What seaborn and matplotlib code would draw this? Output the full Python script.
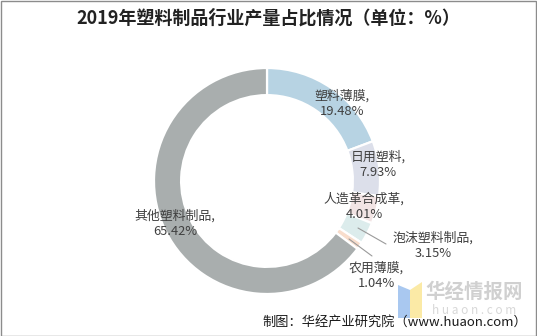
import matplotlib
matplotlib.use("Agg")
import matplotlib.pyplot as plt
import matplotlib.patches as mpatches
import seaborn as sns

sns.set_theme(style="white")
plt.rcParams['font.family'] = ['Noto Sans CJK SC', 'DejaVu Sans']

# Data
categories = ["塑料薄膜", "日用塑料", "人造革合成革", "泡沫塑料制品", "农用薄膜", "其他塑料制品"]
shares = [19.48, 7.93, 4.01, 3.15, 1.04, 65.42]
colors = ["#b7d3e3", "#dcdfea", "#f2e4e4", "#dcecec", "#f8ddcc", "#a9aeae"]
title = "2019年塑料制品行业产量占比情况（单位：%）"
source = "制图：华经产业研究院（www.huaon.com）"

# Label anchor positions in pixels (x, y from top)
label_pos = [(342, 104), (378, 165), (364, 207), (433, 246), (376, 276), (175, 224)]

W, H = 537, 336
fig = plt.figure(figsize=(W / 100, H / 100), dpi=100)
fig.patch.set_facecolor("white")

cx, cy, R = 267, 181, 113
ax = fig.add_axes([(cx - R) / W, (H - cy - R) / H, 2 * R / W, 2 * R / H])
wedges, _ = ax.pie(shares, colors=colors, startangle=90, counterclock=False,
                   radius=1.0, wedgeprops=dict(width=0.24, edgecolor="white", linewidth=1.6))
ax.set_xlim(-1, 1)
ax.set_ylim(-1, 1)
ax.set_aspect("equal")
ax.axis("off")


def px2data(x, y):
    return (x - cx) / R, (cy - y) / R


for name, val, (lx, ly) in zip(categories, shares, label_pos):
    dx, dy = px2data(lx, ly)
    ax.text(dx, dy, f"{name},\n{val:.2f}%", ha="center", va="center",
            fontsize=9.3, color="#404040", linespacing=1.25, clip_on=False)

# leader lines for the two small slices
for (x0, y0), (x1, y1) in [((358, 228), (386, 244)), ((349, 239), (372, 256))]:
    a, b = px2data(x0, y0)
    c, d = px2data(x1, y1)
    ax.plot([a, c], [b, d], color="#9a9a9a", lw=0.8, clip_on=False)

fig.text(0.5, 1 - 18 / H, title, ha="center", va="center", fontsize=13,
         fontweight="bold", color="#222222")

# watermark
fig.patches.append(mpatches.Polygon([(398 / W, 1 - 285 / H), (410 / W, 1 - 290 / H),
                                     (410 / W, 1 - 318 / H), (398 / W, 1 - 318 / H)],
                                    closed=True, transform=fig.transFigure,
                                    facecolor="#a9c8f0", edgecolor="none"))
fig.patches.append(mpatches.Polygon([(410 / W, 1 - 290 / H), (422 / W, 1 - 282 / H),
                                     (422 / W, 1 - 318 / H), (410 / W, 1 - 318 / H)],
                                    closed=True, transform=fig.transFigure,
                                    facecolor="#fbeaa6", edgecolor="none"))
fig.text(474 / W, 1 - 292 / H, "华经情报网", ha="center", va="center", fontsize=14,
         fontweight="bold", color="#d0d0d0")
fig.text(474 / W, 1 - 310 / H, "h u a o n . c o m", ha="center", va="center", fontsize=8.5,
         color="#d8d8d8")

fig.text(527 / W, 1 - 322 / H, source, ha="right", va="center", fontsize=9.5, color="#1a1a1a")

# outer frame
fig.patches.append(mpatches.Rectangle((0.5 / W, 0.5 / H), 1 - 1.5 / W, 1 - 1.5 / H,
                                      transform=fig.transFigure, fill=False,
                                      edgecolor="#8c8c8c", linewidth=1.0))

fig.savefig("out.png", dpi=100, facecolor="white")
